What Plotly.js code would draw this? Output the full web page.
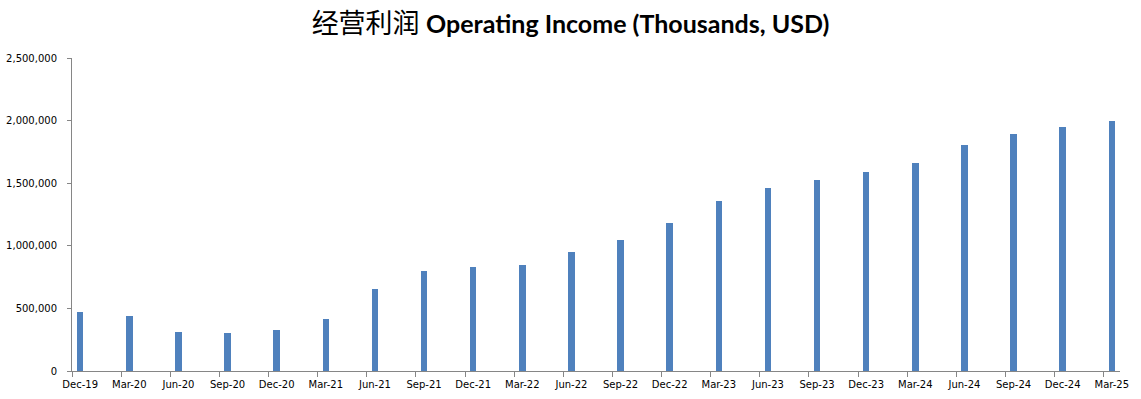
<!DOCTYPE html>
<html>
<head>
<meta charset="utf-8">
<script src="https://cdn.plot.ly/plotly-3.0.1.min.js"></script>
<style>html,body{margin:0;padding:0;background:#fff;}#chart{width:1141px;height:399px;}</style>
</head>
<body>
<div id="chart"></div>
<script>
const quarters = ["Dec-19","Mar-20","Jun-20","Sep-20","Dec-20","Mar-21","Jun-21","Sep-21","Dec-21","Mar-22","Jun-22","Sep-22","Dec-22","Mar-23","Jun-23","Sep-23","Dec-23","Mar-24","Jun-24","Sep-24","Dec-24","Mar-25"];
const operatingIncome = [474000,437000,309000,301000,325000,413000,658000,795000,827000,849000,947000,1043000,1179000,1360000,1463000,1527000,1593000,1665000,1809000,1896000,1952000,2000000];
const yTickVals = [0,500000,1000000,1500000,2000000,2500000];
const yTickText = ["0","500,000","1,000,000","1,500,000","2,000,000","2,500,000"];

// Date axis in months: each quarter label sits in the middle of its month slot.
const monthsPerQuarter = 3;
const xPos = quarters.map((q, i) => i * monthsPerQuarter + 0.5);
const totalMonths = quarters.length * monthsPerQuarter - 2;

const trace = {
  type: "bar",
  x: xPos,
  y: operatingIncome,
  width: 0.4,
  marker: {color: "#4F81BD", line: {width: 0}},
  hoverinfo: "skip"
};

const layout = {
  width: 1141,
  height: 399,
  margin: {l: 72, r: 21, t: 58, b: 28},
  paper_bgcolor: "#ffffff",
  plot_bgcolor: "#ffffff",
  showlegend: false,
  title: {
    text: "<span style=\"font-family:'Noto Sans CJK SC';font-size:27px;font-weight:normal\">经营利润</span> <b>Operating Income (Thousands, USD)</b>",
    font: {family: "Lato, 'Liberation Sans', sans-serif", size: 25, color: "#000000"},
    x: 0.5, xanchor: "center",
    yref: "container", y: 0.94, yanchor: "middle"
  },
  xaxis: {
    range: [0, totalMonths],
    tickmode: "array",
    tickvals: xPos,
    ticktext: quarters,
    ticks: "",
    showgrid: false,
    zeroline: false,
    showline: true,
    linecolor: "#868686",
    linewidth: 1,
    tickfont: {family: "DejaVu Sans, Verdana, sans-serif", size: 10, color: "#000000"},
    ticklabelstandoff: 4,
    minor: {tickmode: "linear", tick0: 0, dtick: monthsPerQuarter, ticks: "outside", ticklen: 5, tickcolor: "#868686", showgrid: false},
    fixedrange: true
  },
  yaxis: {
    range: [0, 2500000],
    tickmode: "array",
    tickvals: yTickVals,
    ticktext: yTickText,
    ticks: "outside",
    ticklen: 4,
    tickcolor: "#868686",
    showgrid: false,
    zeroline: false,
    showline: true,
    linecolor: "#868686",
    linewidth: 1,
    tickfont: {family: "DejaVu Sans, Verdana, sans-serif", size: 10, color: "#000000"},
    ticklabelstandoff: 8,
    fixedrange: true
  },
  bargap: 0
};

Plotly.newPlot("chart", [trace], layout, {displayModeBar: false, staticPlot: true});
</script>
</body>
</html>
